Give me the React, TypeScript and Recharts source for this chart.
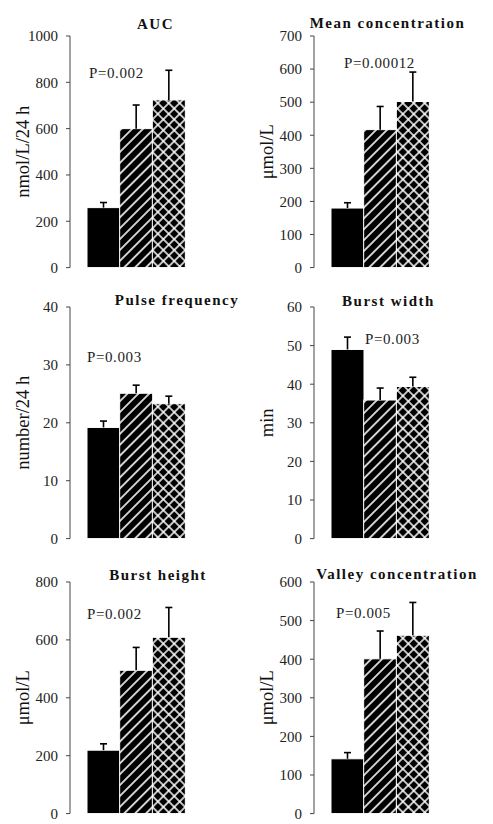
import { BarChart, Bar, XAxis, YAxis, Cell } from 'recharts'

// three study groups, left to right: solid, hatched, cross-hatched
const groups = ['Group 1', 'Group 2', 'Group 3']

const aucMean = [259, 600, 724]
const aucSem = [22, 102, 128]
const aucTicks = [0, 200, 400, 600, 800, 1000]

const meanConcMean = [180, 417, 502]
const meanConcSem = [16, 70, 89]
const meanConcTicks = [0, 100, 200, 300, 400, 500, 600, 700]

const pulseMean = [19.2, 25.1, 23.3]
const pulseSem = [1.1, 1.4, 1.3]
const pulseTicks = [0, 10, 20, 30, 40]

const widthMean = [49.0, 35.9, 39.4]
const widthSem = [3.2, 3.1, 2.4]
const widthTicks = [0, 10, 20, 30, 40, 50, 60]

const heightMean = [219, 495, 609]
const heightSem = [22, 79, 103]
const heightTicks = [0, 200, 400, 600, 800]

const valleyMean = [142, 401, 462]
const valleySem = [16, 72, 85]
const valleyTicks = [0, 100, 200, 300, 400, 500, 600]

const SERIF = '"Liberation Serif", "Times New Roman", serif'
const PLOT_H = 231.6
const CHART_W = 248

const rows = (mean: number[], sem: number[]) =>
  groups.map((g, i) => ({ group: g, mean: mean[i], sem: sem[i] }))

// bar plus an upward-only SEM whisker; the whisker length comes from the bar's own px/unit
function BarWithSem(props: any) {
  const { x, y, width, height, fill, payload } = props
  const k = height / payload.mean
  const top = y - payload.sem * k
  const cx = x + width / 2
  return (
    <g>
      <rect x={x} y={y} width={width} height={height} fill={fill} stroke="#fff" strokeWidth={1} />
      <line x1={cx} y1={y} x2={cx} y2={top} stroke="#000" strokeWidth={1.6} />
      <line x1={cx - 3.5} y1={top} x2={cx + 3.5} y2={top} stroke="#000" strokeWidth={1.6} />
    </g>
  )
}

type PanelProps = {
  id: string
  mean: number[]
  sem: number[]
  ticks: number[]
  unit: string
  left: number
  plotTop: number
  axisX: number
}

function Panel({ id, mean, sem, ticks, unit, left, plotTop, axisX }: PanelProps) {
  const data = rows(mean, sem)
  const yw = axisX - left
  const plotRight = axisX + 115 - left
  const fills = ['#000', `url(#${id}-diag)`, `url(#${id}-cross)`]
  const labelX = axisX - 47 - left

  return (
    <div style={{ position: 'absolute', left, top: plotTop - 20 }}>
      <BarChart
        width={CHART_W}
        height={PLOT_H + 30}
        data={data}
        margin={{ top: 20, right: CHART_W - plotRight, bottom: 10, left: 0 }}
        barCategoryGap={0}
        barGap={0}
      >
        <defs>
          <pattern id={`${id}-diag`} patternUnits="userSpaceOnUse" width={7.7} height={7.7} patternTransform="rotate(45)">
            <rect width={7.7} height={7.7} fill="#000" />
            <line x1={3.85} y1={0} x2={3.85} y2={7.7} stroke="#fff" strokeWidth={1.6} />
          </pattern>
          <pattern id={`${id}-cross`} patternUnits="userSpaceOnUse" width={7.7} height={7.7} patternTransform="rotate(45)">
            <rect width={7.7} height={7.7} fill="#000" />
            <line x1={3.85} y1={0} x2={3.85} y2={7.7} stroke="#fff" strokeWidth={1.5} />
            <line x1={0} y1={3.85} x2={7.7} y2={3.85} stroke="#fff" strokeWidth={1.5} />
          </pattern>
        </defs>
        <XAxis dataKey="group" hide padding={{ left: 17, right: 0 }} />
        <YAxis
          domain={[0, ticks[ticks.length - 1]]}
          ticks={ticks}
          interval={0}
          width={yw}
          tick={{ fill: '#222', fontSize: 15, fontFamily: SERIF }}
          tickSize={4}
          tickMargin={8}
          axisLine={{ stroke: '#444' }}
          tickLine={{ stroke: '#444' }}
          label={{
            value: unit,
            content: () => (
              <text
                transform={`translate(${labelX},${20 + PLOT_H / 2}) rotate(-90)`}
                textAnchor="middle"
                dominantBaseline="central"
                fontFamily={SERIF}
                fontSize={18.5}
                fill="#111"
              >
                {unit}
              </text>
            ),
          }}
        />
        <Bar dataKey="mean" isAnimationActive={false} shape={BarWithSem}>
          {data.map((d, i) => (
            <Cell key={d.group} fill={fills[i]} />
          ))}
        </Bar>
      </BarChart>
    </div>
  )
}

const titles = [
  { text: 'AUC', x: 155.5, y: 29 },
  { text: 'Mean concentration', x: 387.5, y: 28 },
  { text: 'Pulse frequency', x: 177, y: 305 },
  { text: 'Burst width', x: 388.5, y: 306 },
  { text: 'Burst height', x: 158, y: 580 },
  { text: 'Valley concentration', x: 397, y: 579 },
]

const pValues = [
  { text: 'P=0.002', x: 89, y: 78 },
  { text: 'P=0.00012', x: 344, y: 68 },
  { text: 'P=0.003', x: 87, y: 362 },
  { text: 'P=0.003', x: 365, y: 344 },
  { text: 'P=0.002', x: 87, y: 619 },
  { text: 'P=0.005', x: 336, y: 618 },
]

export default function App() {
  return (
    <div style={{ position: 'absolute', left: 0, top: 0, width: 493, height: 824, background: '#fff' }}>
      <Panel id="auc" mean={aucMean} sem={aucSem} ticks={aucTicks} unit="nmol/L/24 h" left={0} plotTop={35.7} axisX={70} />
      <Panel id="mc" mean={meanConcMean} sem={meanConcSem} ticks={meanConcTicks} unit="μmol/L" left={245} plotTop={35.7} axisX={314} />
      <Panel id="pf" mean={pulseMean} sem={pulseSem} ticks={pulseTicks} unit="number/24 h" left={0} plotTop={306.7} axisX={70} />
      <Panel id="bw" mean={widthMean} sem={widthSem} ticks={widthTicks} unit="min" left={245} plotTop={306.7} axisX={314} />
      <Panel id="bh" mean={heightMean} sem={heightSem} ticks={heightTicks} unit="μmol/L" left={0} plotTop={582.3} axisX={70} />
      <Panel id="vc" mean={valleyMean} sem={valleySem} ticks={valleyTicks} unit="μmol/L" left={245} plotTop={582.3} axisX={314} />
      <svg width={493} height={824} style={{ position: 'absolute', left: 0, top: 0, pointerEvents: 'none' }}>
        {titles.map(t => (
          <text key={t.text} x={t.x} y={t.y} textAnchor="middle" fontFamily={SERIF} fontSize={15} fontWeight="bold" letterSpacing={1.5} fill="#111">
            {t.text}
          </text>
        ))}
        {pValues.map((p, i) => (
          <text key={i} x={p.x} y={p.y} fontFamily={SERIF} fontSize={15} letterSpacing={0.6} fill="#222">
            {p.text}
          </text>
        ))}
      </svg>
    </div>
  )
}
